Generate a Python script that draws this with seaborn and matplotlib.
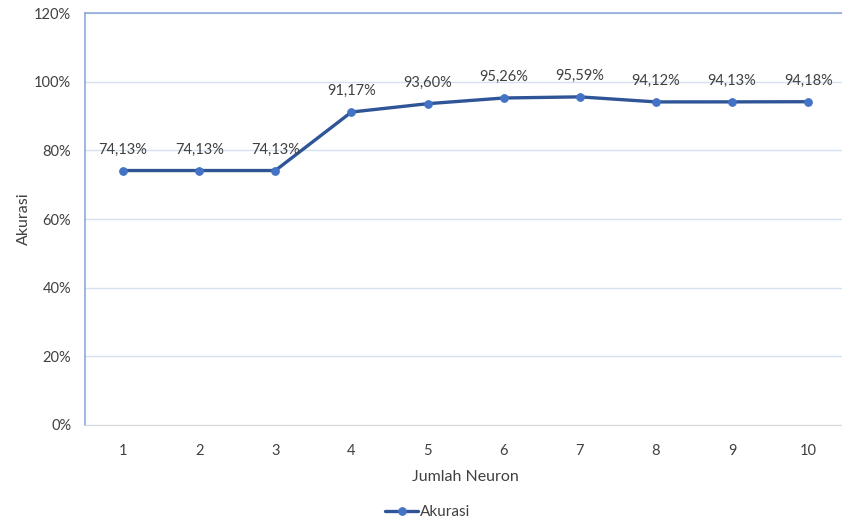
import numpy as np
import pandas as pd
import matplotlib
matplotlib.use("Agg")
import matplotlib.pyplot as plt
import seaborn as sns
from matplotlib.ticker import FuncFormatter

# data
neuron = ["1", "2", "3", "4", "5", "6", "7", "8", "9", "10"]
akurasi = [74.13, 74.13, 74.13, 91.17, 93.60, 95.26, 95.59, 94.12, 94.13, 94.18]

df = pd.DataFrame({"Jumlah Neuron": neuron, "Akurasi": akurasi})
df["pos"] = np.arange(len(neuron))

sns.set_style("white")
plt.rcParams["font.family"] = ["Lato", "DejaVu Sans"]
txt = "#404040"

fig = plt.figure(figsize=(8.42, 5.23), dpi=100)
ax = fig.add_axes([0.101, 0.1874, 0.904, 0.7876])

sns.lineplot(data=df, x="pos", y="Akurasi", ax=ax, color="#2F5597",
             linewidth=2.4, marker="o", markersize=5.5,
             markerfacecolor="#4472C4", markeredgecolor="#4472C4",
             label="Akurasi")

for x, y in zip(df["pos"], akurasi):
    ax.text(x, y + 4, f"{y:.2f}%".replace(".", ","), ha="center", va="bottom",
            fontsize=10.5, color=txt)

ax.set_xlim(-0.5, len(neuron) - 0.5)
ax.set_ylim(0, 120)
ax.set_yticks(np.arange(0, 121, 20))
ax.yaxis.set_major_formatter(FuncFormatter(lambda v, p: f"{v:.0f}%"))
ax.set_xticks(df["pos"])
ax.set_xticklabels(neuron)
ax.tick_params(axis="both", length=0, labelsize=10.5, colors=txt)
ax.tick_params(axis="x", pad=14)
ax.tick_params(axis="y", pad=10)

ax.grid(axis="y", color="#D6E1F2", linewidth=1)
ax.set_axisbelow(True)
for s in ["left", "top"]:
    ax.spines[s].set_color("#8EAADB")
    ax.spines[s].set_linewidth(1.2)
ax.spines["bottom"].set_color("#D9D9D9")
ax.spines["right"].set_visible(False)

ax.set_xlabel("Jumlah Neuron", fontsize=11.5, color=txt, labelpad=8)
ax.set_ylabel("Akurasi", fontsize=11.5, color=txt, labelpad=2)

ax.legend(loc="center", bbox_to_anchor=(0.45, -0.212), frameon=False,
          fontsize=11, handlelength=2.2, handletextpad=0.1, labelcolor=txt,
          borderpad=0)

fig.savefig("out.png", dpi=100)
